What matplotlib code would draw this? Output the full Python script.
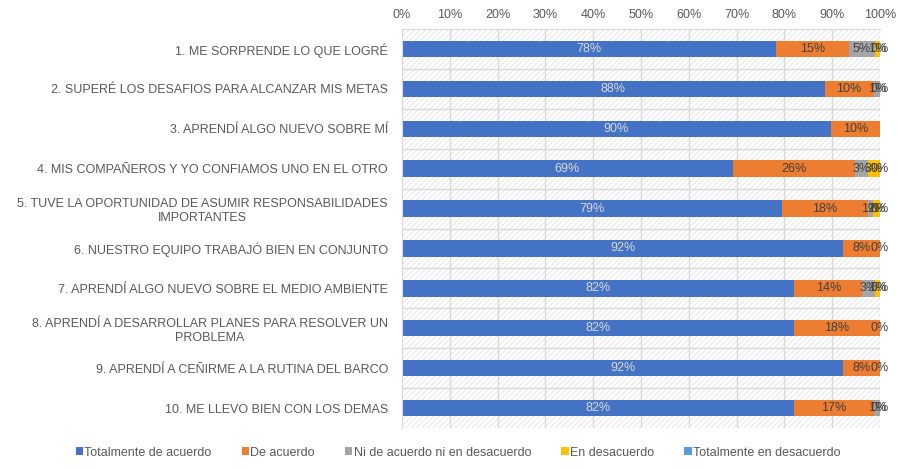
import numpy as np
import matplotlib
matplotlib.use("Agg")
import matplotlib.pyplot as plt
from matplotlib.patches import Rectangle

plt.rcParams["font.family"] = ["Liberation Sans Narrow", "Liberation Sans", "DejaVu Sans"]
plt.rcParams["hatch.linewidth"] = 0.6

CATS = [
    "1. ME SORPRENDE LO QUE LOGRÉ",
    "2. SUPERÉ LOS DESAFIOS PARA ALCANZAR MIS METAS",
    "3. APRENDÍ ALGO NUEVO SOBRE MÍ",
    "4. MIS COMPAÑEROS Y YO CONFIAMOS UNO EN EL OTRO",
    "5. TUVE LA OPORTUNIDAD DE ASUMIR RESPONSABILIDADES\nIMPORTANTES",
    "6. NUESTRO EQUIPO TRABAJÓ BIEN EN CONJUNTO",
    "7. APRENDÍ ALGO NUEVO SOBRE EL MEDIO AMBIENTE",
    "8. APRENDÍ A DESARROLLAR PLANES PARA RESOLVER UN\nPROBLEMA",
    "9. APRENDÍ A CEÑIRME A LA RUTINA DEL BARCO",
    "10. ME LLEVO BIEN CON LOS DEMAS",
]
SERIES = ["Totalmente de acuerdo", "De acuerdo", "Ni de acuerdo ni en desacuerdo",
          "En desacuerdo", "Totalmente en desacuerdo"]
COLORS = ["#4472C4", "#ED7D31", "#A5A5A5", "#FFC000", "#5B9BD5"]

tot_acuerdo   = [78.3, 88.4, 89.7, 69.2, 79.4, 92.3, 82.1, 82.0, 92.3, 82.1]
de_acuerdo    = [15.2, 10.3, 10.3, 25.6, 18.0,  7.7, 14.2, 18.0,  7.7, 16.6]
ni_ni         = [ 5.4,  1.3,  0.0,  2.6,  1.1,  0.0,  2.6,  0.0,  0.0,  1.3]
desacuerdo    = [ 1.1,  0.0,  0.0,  2.6,  1.5,  0.0,  1.1,  0.0,  0.0,  0.0]
tot_desac     = [ 0.0,  0.0,  0.0,  0.0,  0.0,  0.0,  0.0,  0.0,  0.0,  0.0]
# which segments Excel shows a label for
SHOW = [
    [1, 1, 1, 1, 1],
    [1, 1, 1, 1, 0],
    [1, 1, 0, 0, 0],
    [1, 1, 1, 1, 1],
    [1, 1, 1, 1, 1],
    [1, 1, 1, 0, 0],
    [1, 1, 1, 1, 1],
    [1, 1, 1, 0, 0],
    [1, 1, 1, 0, 0],
    [1, 1, 1, 1, 0],
]

data = np.array([tot_acuerdo, de_acuerdo, ni_ni, desacuerdo, tot_desac])
data = data / data.sum(axis=0) * 100

fig = plt.figure(figsize=(8.98, 4.70), dpi=100)
ax = fig.add_axes([402 / 898, 1 - 428 / 470, 478 / 898, 399 / 470])

y = np.arange(len(CATS))
# hatched background
ax.add_patch(Rectangle((0, 0), 1, 1, transform=ax.transAxes, facecolor="white",
                       edgecolor="#E3E3E3", hatch="//////", lw=0, zorder=0))
for x in range(10, 101, 10):
    ax.axvline(x, color="#D9D9D9", lw=1, zorder=1)
for b in np.arange(0.5, len(CATS) - 0.5, 1):
    ax.axhline(b, color="#D9D9D9", lw=1, zorder=1)

left = np.zeros(len(CATS))
for i, (vals, c, name) in enumerate(zip(data, COLORS, SERIES)):
    ax.barh(y, vals, left=left, height=0.41, color=c, label=name, zorder=2)
    tc = "#D9D9D9" if i == 0 else "#404040"
    for j, v in enumerate(vals):
        if SHOW[j][i]:
            ax.text(left[j] + v / 2, y[j], f"{v:.0f}%", ha="center", va="center",
                    fontsize=9, color=tc, zorder=3)
    left += vals

ax.set_xlim(0, 100)
ax.set_ylim(len(CATS) - 0.5, -0.5)
ax.set_yticks(y)
ax.set_yticklabels(CATS, fontsize=9, color="#595959", multialignment="center")
ax.set_xticks(range(0, 101, 10))
ax.set_xticklabels([f"{x}%" for x in range(0, 101, 10)], fontsize=9, color="#595959")
ax.xaxis.tick_top()
ax.tick_params(axis="x", length=0, pad=6)
ax.tick_params(axis="y", length=0, pad=10)
for s in ["right", "bottom"]:
    ax.spines[s].set_visible(False)
ax.spines["top"].set_color("#D9D9D9")
ax.spines["left"].set_color("#D9D9D9")

fig.legend(loc="lower center", bbox_to_anchor=(0.51, 0.0), ncol=5, frameon=False,
           fontsize=9, handlelength=0.6, handleheight=0.6, handletextpad=0.1,
           columnspacing=2.4, labelcolor="#595959")

fig.savefig("out.png", dpi=100)
